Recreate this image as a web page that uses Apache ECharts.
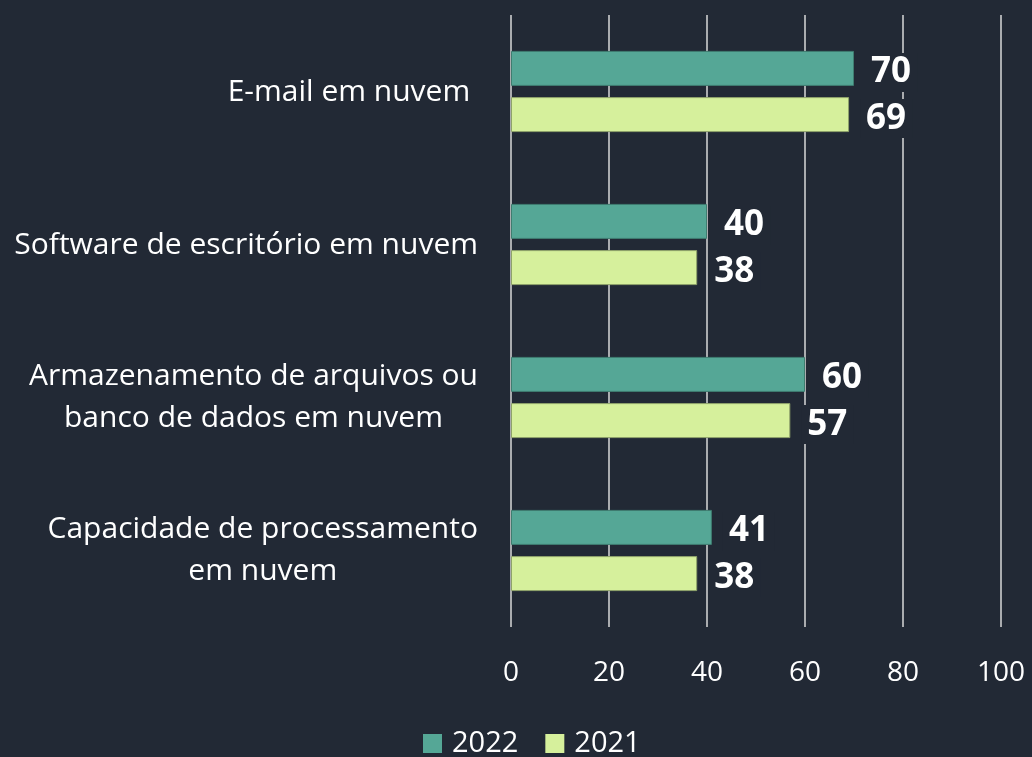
<!DOCTYPE html>
<html>
<head>
<meta charset="utf-8">
<script src="https://cdn.jsdelivr.net/npm/echarts@6/dist/echarts.min.js"></script>
<style>
  html, body { margin: 0; padding: 0; background: #222935; }
  #chart { width: 1032px; height: 757px; }
</style>
</head>
<body>
<div id="chart"></div>
<script>
// categorias (de cima para baixo)
const categories = [
  'E-mail em nuvem ',
  'Software de escritório em nuvem',
  'Armazenamento de arquivos ou\nbanco de dados em nuvem',
  'Capacidade de processamento\nem nuvem'
];
const values2022 = [70, 40, 60, 41];
const values2021 = [69, 38, 57, 38];
const xTicks = [0, 20, 40, 60, 80, 100];

const bg = '#222935';
const font = 'Open Sans';

const chart = echarts.init(document.getElementById('chart'));

// linhas centralizadas dentro do bloco alinhado à direita
const labelFormatter = (value) => {
  const lines = value.split('\n');
  if (lines.length === 1) return '{one|' + value + '}';
  return lines.map(l => '{two|' + l + '}').join('\n');
};

const valueLabel = {
  show: true,
  position: 'right',
  distance: 11,
  offset: [0, 4],
  color: '#ffffff',
  fontFamily: font,
  fontWeight: 'bold',
  fontSize: 35,
  backgroundColor: bg,
  padding: [2, 6]
};

const option = {
  backgroundColor: bg,
  animation: false,
  textStyle: { fontFamily: font },
  legend: {
    top: 729,
    left: 423,
    padding: 0,
    itemWidth: 19,
    itemHeight: 19,
    itemGap: 27,
    icon: 'rect',
    itemStyle: { borderWidth: 0 },
    textStyle: { color: '#ffffff', fontSize: 29, fontFamily: font, padding: [0, 0, 0, 5] },
    data: ['2022', '2021']
  },
  grid: {
    left: 511,
    right: 31,
    top: 15,
    bottom: 130
  },
  xAxis: {
    type: 'value',
    min: 0,
    max: 100,
    interval: 20,
    axisLine: { show: false },
    axisTick: { show: false },
    axisLabel: {
      color: '#ffffff',
      fontSize: 28,
      fontFamily: font,
      margin: 32,
      formatter: (v) => xTicks.includes(v) ? String(v) : ''
    },
    splitLine: { show: true, lineStyle: { color: '#d9d9d9', width: 1.5 } }
  },
  yAxis: {
    type: 'category',
    inverse: true,
    data: categories,
    axisLine: { show: false },
    axisTick: { show: false },
    axisLabel: {
      color: '#ffffff',
      fontFamily: font,
      fontSize: 30,
      margin: 33,
      align: 'right',
      formatter: labelFormatter,
      rich: {
        one: { color: '#ffffff', fontFamily: font, fontSize: 30, lineHeight: 42, padding: [2, 0, 0, 0] },
        two: { color: '#ffffff', fontFamily: font, fontSize: 30, lineHeight: 42, align: 'center' }
      }
    }
  },
  series: [
    {
      name: '2022',
      type: 'bar',
      data: values2022,
      barWidth: 35,
      barGap: '32%',
      itemStyle: { color: '#55a796', borderColor: '#3f7d70', borderWidth: 1 },
      label: valueLabel
    },
    {
      name: '2021',
      type: 'bar',
      data: values2021,
      barWidth: 35,
      itemStyle: { color: '#d6f09c', borderColor: '#8fa36a', borderWidth: 1 },
      label: valueLabel
    }
  ]
};

chart.setOption(option);
</script>
</body>
</html>
